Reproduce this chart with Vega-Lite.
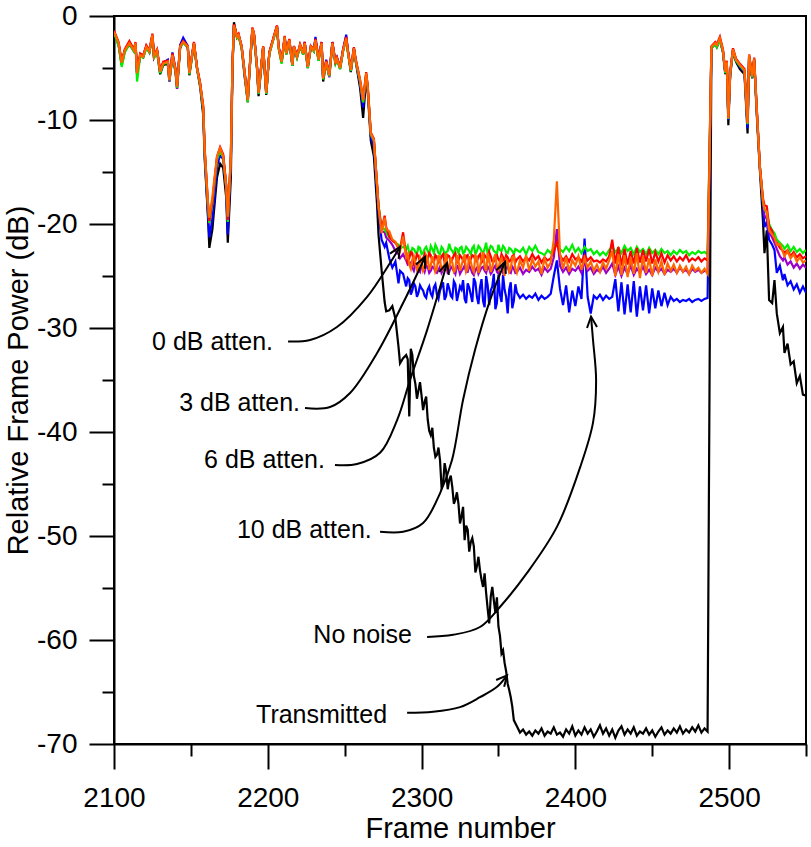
{
  "$schema": "https://vega.github.io/schema/vega-lite/v6.json",
  "width": 692,
  "height": 728,
  "autosize": "none",
  "padding": {"left": 114, "top": 16, "right": 5, "bottom": 103},
  "background": "white",
  "datasets": {
    "frames": [
      {"frame": 2100, "transmitted": -1.6, "no_noise": -1.5, "atten10": -1.5, "atten0": -1.6, "atten3": -1.4, "atten6": -1.5},
      {"frame": 2103, "transmitted": -2.8, "no_noise": -2.7, "atten10": -2.7, "atten0": -2.9, "atten3": -2.5, "atten6": -2.6},
      {"frame": 2105, "transmitted": -4.7, "no_noise": -4.5, "atten10": -4.6, "atten0": -4.9, "atten3": -4.4, "atten6": -4.5},
      {"frame": 2107, "transmitted": -3.4, "no_noise": -3.3, "atten10": -3.3, "atten0": -3.5, "atten3": -3.2, "atten6": -3.3},
      {"frame": 2110, "transmitted": -2.7, "no_noise": -2.6, "atten10": -2.6, "atten0": -2.7, "atten3": -2.4, "atten6": -2.6},
      {"frame": 2113, "transmitted": -3.4, "no_noise": -3.3, "atten10": -3.3, "atten0": -3.4, "atten3": -3.2, "atten6": -3.3},
      {"frame": 2114, "transmitted": -2.7, "no_noise": -2.6, "atten10": -2.7, "atten0": -2.8, "atten3": -2.5, "atten6": -2.6},
      {"frame": 2115, "transmitted": -5.6, "no_noise": -5.5, "atten10": -5.6, "atten0": -6.3, "atten3": -5.4, "atten6": -5.5},
      {"frame": 2117, "transmitted": -3.8, "no_noise": -3.9, "atten10": -3.8, "atten0": -3.9, "atten3": -3.6, "atten6": -3.75},
      {"frame": 2119, "transmitted": -4.0, "no_noise": -3.8, "atten10": -3.9, "atten0": -4.0, "atten3": -3.8, "atten6": -3.9},
      {"frame": 2121, "transmitted": -3.0, "no_noise": -2.9, "atten10": -3.0, "atten0": -3.1, "atten3": -2.8, "atten6": -2.95},
      {"frame": 2123, "transmitted": -3.5, "no_noise": -3.4, "atten10": -3.4, "atten0": -3.5, "atten3": -3.3, "atten6": -3.4},
      {"frame": 2125, "transmitted": -1.9, "no_noise": -1.8, "atten10": -1.9, "atten0": -2.0, "atten3": -1.7, "atten6": -1.8},
      {"frame": 2126, "transmitted": -4.0, "no_noise": -3.9, "atten10": -3.9, "atten0": -4.1, "atten3": -3.8, "atten6": -3.9},
      {"frame": 2128, "transmitted": -3.4, "no_noise": -3.3, "atten10": -3.3, "atten0": -3.4, "atten3": -3.2, "atten6": -3.3},
      {"frame": 2130, "transmitted": -5.6, "no_noise": -5.4, "atten10": -5.3, "atten0": -5.5, "atten3": -5.2, "atten6": -5.35},
      {"frame": 2132, "transmitted": -4.7, "no_noise": -4.5, "atten10": -4.5, "atten0": -4.6, "atten3": -4.4, "atten6": -4.55},
      {"frame": 2135, "transmitted": -4.6, "no_noise": -4.2, "atten10": -4.4, "atten0": -4.5, "atten3": -4.3, "atten6": -4.4},
      {"frame": 2136, "transmitted": -6.3, "no_noise": -6.0, "atten10": -6.3, "atten0": -6.2, "atten3": -6.0, "atten6": -6.15},
      {"frame": 2138, "transmitted": -3.9, "no_noise": -3.5, "atten10": -3.8, "atten0": -3.9, "atten3": -3.6, "atten6": -3.75},
      {"frame": 2140, "transmitted": -5.4, "no_noise": -5.1, "atten10": -5.2, "atten0": -5.3, "atten3": -5.1, "atten6": -5.2},
      {"frame": 2141, "transmitted": -7.0, "no_noise": -6.7, "atten10": -7.0, "atten0": -6.9, "atten3": -6.7, "atten6": -6.8},
      {"frame": 2143, "transmitted": -3.1, "no_noise": -2.8, "atten10": -3.0, "atten0": -3.0, "atten3": -2.9, "atten6": -2.95},
      {"frame": 2145, "transmitted": -2.4, "no_noise": -2.1, "atten10": -2.5, "atten0": -2.6, "atten3": -2.4, "atten6": -2.5},
      {"frame": 2148, "transmitted": -3.1, "no_noise": -2.9, "atten10": -3.0, "atten0": -3.0, "atten3": -2.9, "atten6": -2.95},
      {"frame": 2149, "transmitted": -5.7, "no_noise": -5.5, "atten10": -5.5, "atten0": -5.6, "atten3": -5.4, "atten6": -5.5},
      {"frame": 2152, "transmitted": -2.7, "no_noise": -2.6, "atten10": -2.6, "atten0": -2.7, "atten3": -2.5, "atten6": -2.6},
      {"frame": 2154, "transmitted": -5.1, "no_noise": -5.0, "atten10": -5.0, "atten0": -5.1, "atten3": -4.9, "atten6": -5.0},
      {"frame": 2156, "transmitted": -6.8, "no_noise": -6.6, "atten10": -6.5, "atten0": -6.6, "atten3": -6.4, "atten6": -6.5},
      {"frame": 2158, "transmitted": -9.5, "no_noise": -9.0, "atten10": -8.8, "atten0": -8.9, "atten3": -8.6, "atten6": -8.7},
      {"frame": 2159, "transmitted": -13.8, "no_noise": -13.4, "atten10": -13.0, "atten0": -13.1, "atten3": -12.8, "atten6": -12.9},
      {"frame": 2161, "transmitted": -19.0, "no_noise": -18.8, "atten10": -18.0, "atten0": -18.2, "atten3": -17.8, "atten6": -17.7},
      {"frame": 2162, "transmitted": -22.3, "no_noise": -21.3, "atten10": -20.0, "atten0": -19.9, "atten3": -19.7, "atten6": -19.4},
      {"frame": 2164, "transmitted": -20.5, "no_noise": -19.5, "atten10": -18.0, "atten0": -18.0, "atten3": -17.8, "atten6": -17.4},
      {"frame": 2165, "transmitted": -18.8, "no_noise": -18.0, "atten10": -16.5, "atten0": -16.6, "atten3": -16.3, "atten6": -16.0},
      {"frame": 2167, "transmitted": -15.5, "no_noise": -14.5, "atten10": -13.7, "atten0": -13.8, "atten3": -13.5, "atten6": -13.5},
      {"frame": 2169, "transmitted": -14.2, "no_noise": -13.3, "atten10": -12.8, "atten0": -13.0, "atten3": -12.6, "atten6": -12.7},
      {"frame": 2171, "transmitted": -14.6, "no_noise": -13.8, "atten10": -13.4, "atten0": -13.6, "atten3": -13.3, "atten6": -13.5},
      {"frame": 2173, "transmitted": -17.5, "no_noise": -16.8, "atten10": -16.3, "atten0": -16.5, "atten3": -16.3, "atten6": -16.4},
      {"frame": 2174, "transmitted": -21.8, "no_noise": -21.0, "atten10": -19.8, "atten0": -19.8, "atten3": -19.6, "atten6": -19.3},
      {"frame": 2176, "transmitted": -15.5, "no_noise": -14.0, "atten10": -13.5, "atten0": -13.6, "atten3": -13.4, "atten6": -13.5},
      {"frame": 2177, "transmitted": -5.5, "no_noise": -5.0, "atten10": -4.9, "atten0": -5.0, "atten3": -4.8, "atten6": -4.9},
      {"frame": 2178, "transmitted": -0.6, "no_noise": -0.9, "atten10": -0.9, "atten0": -1.0, "atten3": -0.8, "atten6": -0.9},
      {"frame": 2180, "transmitted": -2.1, "no_noise": -2.0, "atten10": -2.0, "atten0": -2.1, "atten3": -1.9, "atten6": -2.0},
      {"frame": 2181, "transmitted": -1.9, "no_noise": -1.8, "atten10": -1.8, "atten0": -1.9, "atten3": -1.7, "atten6": -1.8},
      {"frame": 2183, "transmitted": -3.1, "no_noise": -2.9, "atten10": -3.0, "atten0": -3.1, "atten3": -2.9, "atten6": -2.95},
      {"frame": 2185, "transmitted": -5.9, "no_noise": -5.6, "atten10": -5.6, "atten0": -5.6, "atten3": -5.4, "atten6": -5.5},
      {"frame": 2187, "transmitted": -8.2, "no_noise": -8.1, "atten10": -8.3, "atten0": -8.3, "atten3": -8.0, "atten6": -8.1},
      {"frame": 2188, "transmitted": -5.6, "no_noise": -5.5, "atten10": -5.5, "atten0": -5.6, "atten3": -5.4, "atten6": -5.5},
      {"frame": 2190, "transmitted": -1.3, "no_noise": -1.3, "atten10": -1.2, "atten0": -1.3, "atten3": -1.1, "atten6": -1.2},
      {"frame": 2191, "transmitted": -1.8, "no_noise": -1.7, "atten10": -1.7, "atten0": -1.8, "atten3": -1.6, "atten6": -1.7},
      {"frame": 2193, "transmitted": -5.1, "no_noise": -4.9, "atten10": -4.9, "atten0": -5.0, "atten3": -4.8, "atten6": -4.9},
      {"frame": 2194, "transmitted": -7.7, "no_noise": -7.4, "atten10": -7.5, "atten0": -7.5, "atten3": -7.3, "atten6": -7.4},
      {"frame": 2197, "transmitted": -3.0, "no_noise": -3.0, "atten10": -3.0, "atten0": -3.1, "atten3": -2.9, "atten6": -2.95},
      {"frame": 2199, "transmitted": -7.6, "no_noise": -7.4, "atten10": -7.4, "atten0": -7.5, "atten3": -7.3, "atten6": -7.4},
      {"frame": 2201, "transmitted": -3.5, "no_noise": -3.6, "atten10": -3.6, "atten0": -3.7, "atten3": -3.5, "atten6": -3.6},
      {"frame": 2204, "transmitted": -2.0, "no_noise": -2.0, "atten10": -2.0, "atten0": -2.1, "atten3": -1.9, "atten6": -2.0},
      {"frame": 2206, "transmitted": -1.0, "no_noise": -1.0, "atten10": -1.0, "atten0": -1.1, "atten3": -0.9, "atten6": -1.0},
      {"frame": 2207, "transmitted": -3.0, "no_noise": -2.9, "atten10": -3.0, "atten0": -3.1, "atten3": -2.9, "atten6": -2.95},
      {"frame": 2209, "transmitted": -4.5, "no_noise": -4.4, "atten10": -4.4, "atten0": -4.6, "atten3": -4.3, "atten6": -4.4},
      {"frame": 2211, "transmitted": -2.1, "no_noise": -2.0, "atten10": -2.0, "atten0": -2.1, "atten3": -1.9, "atten6": -2.0},
      {"frame": 2212, "transmitted": -3.7, "no_noise": -3.6, "atten10": -3.6, "atten0": -3.7, "atten3": -3.5, "atten6": -3.6},
      {"frame": 2214, "transmitted": -2.4, "no_noise": -2.3, "atten10": -2.3, "atten0": -2.4, "atten3": -2.2, "atten6": -2.3},
      {"frame": 2216, "transmitted": -4.8, "no_noise": -4.7, "atten10": -4.8, "atten0": -4.8, "atten3": -4.6, "atten6": -4.7},
      {"frame": 2217, "transmitted": -3.0, "no_noise": -2.9, "atten10": -3.0, "atten0": -3.0, "atten3": -2.9, "atten6": -2.95},
      {"frame": 2219, "transmitted": -4.0, "no_noise": -3.9, "atten10": -3.9, "atten0": -4.0, "atten3": -3.8, "atten6": -3.9},
      {"frame": 2221, "transmitted": -2.9, "no_noise": -2.8, "atten10": -2.8, "atten0": -2.9, "atten3": -2.7, "atten6": -2.8},
      {"frame": 2223, "transmitted": -3.7, "no_noise": -3.6, "atten10": -3.6, "atten0": -3.7, "atten3": -3.5, "atten6": -3.6},
      {"frame": 2224, "transmitted": -2.6, "no_noise": -2.5, "atten10": -2.6, "atten0": -2.7, "atten3": -2.5, "atten6": -2.6},
      {"frame": 2226, "transmitted": -5.0, "no_noise": -4.9, "atten10": -4.9, "atten0": -5.0, "atten3": -4.8, "atten6": -4.9},
      {"frame": 2228, "transmitted": -3.0, "no_noise": -2.9, "atten10": -3.0, "atten0": -3.0, "atten3": -2.9, "atten6": -2.95},
      {"frame": 2230, "transmitted": -3.4, "no_noise": -3.3, "atten10": -3.3, "atten0": -3.4, "atten3": -3.2, "atten6": -3.3},
      {"frame": 2231, "transmitted": -2.2, "no_noise": -2.0, "atten10": -2.3, "atten0": -2.4, "atten3": -2.2, "atten6": -2.3},
      {"frame": 2233, "transmitted": -4.3, "no_noise": -4.1, "atten10": -4.2, "atten0": -4.3, "atten3": -4.1, "atten6": -4.2},
      {"frame": 2235, "transmitted": -2.6, "no_noise": -2.5, "atten10": -2.6, "atten0": -2.7, "atten3": -2.5, "atten6": -2.6},
      {"frame": 2236, "transmitted": -6.3, "no_noise": -6.0, "atten10": -6.0, "atten0": -6.1, "atten3": -5.9, "atten6": -6.0},
      {"frame": 2238, "transmitted": -4.5, "no_noise": -4.2, "atten10": -4.4, "atten0": -4.5, "atten3": -4.3, "atten6": -4.4},
      {"frame": 2240, "transmitted": -5.8, "no_noise": -5.6, "atten10": -5.9, "atten0": -5.8, "atten3": -5.6, "atten6": -5.7},
      {"frame": 2242, "transmitted": -2.7, "no_noise": -2.5, "atten10": -2.6, "atten0": -2.7, "atten3": -2.5, "atten6": -2.6},
      {"frame": 2244, "transmitted": -4.6, "no_noise": -4.4, "atten10": -4.5, "atten0": -4.6, "atten3": -4.4, "atten6": -4.55},
      {"frame": 2245, "transmitted": -4.1, "no_noise": -4.0, "atten10": -4.1, "atten0": -4.2, "atten3": -4.0, "atten6": -4.1},
      {"frame": 2247, "transmitted": -5.1, "no_noise": -4.9, "atten10": -5.0, "atten0": -5.1, "atten3": -4.9, "atten6": -5.0},
      {"frame": 2249, "transmitted": -3.3, "no_noise": -3.2, "atten10": -3.3, "atten0": -3.4, "atten3": -3.2, "atten6": -3.3},
      {"frame": 2251, "transmitted": -2.1, "no_noise": -1.8, "atten10": -2.1, "atten0": -2.2, "atten3": -2.0, "atten6": -2.15},
      {"frame": 2252, "transmitted": -3.3, "no_noise": -3.2, "atten10": -3.3, "atten0": -3.4, "atten3": -3.2, "atten6": -3.3},
      {"frame": 2254, "transmitted": -5.4, "no_noise": -5.3, "atten10": -5.2, "atten0": -5.3, "atten3": -5.1, "atten6": -5.2},
      {"frame": 2256, "transmitted": -3.2, "no_noise": -3.1, "atten10": -3.1, "atten0": -3.2, "atten3": -3.0, "atten6": -3.1},
      {"frame": 2257, "transmitted": -4.2, "no_noise": -4.1, "atten10": -4.1, "atten0": -4.2, "atten3": -4.0, "atten6": -4.1},
      {"frame": 2260, "transmitted": -6.9, "no_noise": -6.6, "atten10": -6.3, "atten0": -6.3, "atten3": -6.1, "atten6": -6.15},
      {"frame": 2262, "transmitted": -9.8, "no_noise": -8.8, "atten10": -8.3, "atten0": -8.3, "atten3": -8.0, "atten6": -8.1},
      {"frame": 2264, "transmitted": -6.0, "no_noise": -5.7, "atten10": -5.6, "atten0": -5.6, "atten3": -5.4, "atten6": -5.5},
      {"frame": 2265, "transmitted": -7.3, "no_noise": -7.0, "atten10": -6.9, "atten0": -6.9, "atten3": -6.7, "atten6": -6.8},
      {"frame": 2267, "transmitted": -12.0, "no_noise": -11.6, "atten10": -11.4, "atten0": -11.4, "atten3": -11.2, "atten6": -11.3},
      {"frame": 2269, "transmitted": -13.5, "no_noise": -12.6, "atten10": -12.0, "atten0": -12.0, "atten3": -11.8, "atten6": -11.9},
      {"frame": 2271, "transmitted": -18.0, "no_noise": -16.8, "atten10": -16.2, "atten0": -16.2, "atten3": -16.0, "atten6": -16.1},
      {"frame": 2272, "transmitted": -21.0, "no_noise": -18.8, "atten10": -18.4, "atten0": -18.2, "atten3": -18.2, "atten6": -18.3},
      {"frame": 2274, "transmitted": -24.4, "no_noise": -21.5, "atten10": -20.7, "atten0": -20.4, "atten3": -20.5, "atten6": -20.9},
      {"frame": 2276, "transmitted": -27.5, "no_noise": -22.2, "atten10": -20.8, "atten0": -20.5, "atten3": -19.2, "atten6": -19.4},
      {"frame": 2277, "transmitted": -28.4, "no_noise": -21.8, "atten10": -21.3, "atten0": -20.8, "atten3": -20.3, "atten6": -20.5},
      {"frame": 2279, "transmitted": -28.3, "no_noise": -23.3, "atten10": -21.6, "atten0": -21.3, "atten3": -21.2, "atten6": -20.7},
      {"frame": 2281, "transmitted": -27.9, "no_noise": -24.2, "atten10": -22.0, "atten0": -21.5, "atten3": -21.6, "atten6": -21.5},
      {"frame": 2283, "transmitted": -29.1, "no_noise": -23.6, "atten10": -22.6, "atten0": -21.8, "atten3": -21.8, "atten6": -21.7},
      {"frame": 2285, "transmitted": -31.8, "no_noise": -25.7, "atten10": -22.9, "atten0": -22.0, "atten3": -22.3, "atten6": -22.4},
      {"frame": 2286, "transmitted": -33.4, "no_noise": -24.5, "atten10": -23.3, "atten0": -22.3, "atten3": -22.4, "atten6": -22.6},
      {"frame": 2288, "transmitted": -32.9, "no_noise": -24.8, "atten10": -22.9, "atten0": -22.2, "atten3": -20.8, "atten6": -21.2},
      {"frame": 2290, "transmitted": -32.6, "no_noise": -26.0, "atten10": -23.5, "atten0": -22.4, "atten3": -23.0, "atten6": -23.2},
      {"frame": 2292, "transmitted": -38.5, "no_noise": -25.4, "atten10": -23.8, "atten0": -22.8, "atten3": -23.3, "atten6": -23.9},
      {"frame": 2294, "transmitted": -32.6, "no_noise": -26.4, "atten10": -24.2, "atten0": -22.3, "atten3": -22.8, "atten6": -23.4},
      {"frame": 2296, "transmitted": -35.4, "no_noise": -26.0, "atten10": -23.9, "atten0": -22.7, "atten3": -23.5, "atten6": -23.8},
      {"frame": 2298, "transmitted": -36.0, "no_noise": -26.6, "atten10": -24.4, "atten0": -22.2, "atten3": -23.1, "atten6": -24.1},
      {"frame": 2300, "transmitted": -36.5, "no_noise": -26.2, "atten10": -24.0, "atten0": -22.9, "atten3": -23.6, "atten6": -23.5},
      {"frame": 2302, "transmitted": -37.1, "no_noise": -26.9, "atten10": -24.6, "atten0": -22.4, "atten3": -22.9, "atten6": -24.2},
      {"frame": 2304, "transmitted": -38.8, "no_noise": -26.3, "atten10": -24.1, "atten0": -22.6, "atten3": -23.4, "atten6": -23.3},
      {"frame": 2306, "transmitted": -40.3, "no_noise": -26.7, "atten10": -24.5, "atten0": -22.1, "atten3": -23.0, "atten6": -24.0},
      {"frame": 2308, "transmitted": -41.5, "no_noise": -26.1, "atten10": -24.2, "atten0": -22.8, "atten3": -23.7, "atten6": -23.6},
      {"frame": 2310, "transmitted": -42.2, "no_noise": -26.8, "atten10": -24.7, "atten0": -22.3, "atten3": -23.2, "atten6": -24.3},
      {"frame": 2312, "transmitted": -42.7, "no_noise": -26.4, "atten10": -24.1, "atten0": -22.9, "atten3": -23.5, "atten6": -23.4},
      {"frame": 2314, "transmitted": -45.0, "no_noise": -25.6, "atten10": -24.4, "atten0": -22.4, "atten3": -22.9, "atten6": -24.1},
      {"frame": 2316, "transmitted": -43.8, "no_noise": -26.9, "atten10": -24.0, "atten0": -22.7, "atten3": -23.6, "atten6": -22.8},
      {"frame": 2318, "transmitted": -44.6, "no_noise": -26.2, "atten10": -24.6, "atten0": -21.9, "atten3": -23.1, "atten6": -24.2},
      {"frame": 2320, "transmitted": -45.3, "no_noise": -27.1, "atten10": -24.3, "atten0": -22.6, "atten3": -23.4, "atten6": -23.7},
      {"frame": 2322, "transmitted": -46.5, "no_noise": -25.8, "atten10": -24.8, "atten0": -22.3, "atten3": -22.8, "atten6": -24.4},
      {"frame": 2324, "transmitted": -46.9, "no_noise": -26.7, "atten10": -24.2, "atten0": -22.8, "atten3": -23.5, "atten6": -23.5},
      {"frame": 2326, "transmitted": -48.1, "no_noise": -26.3, "atten10": -24.5, "atten0": -22.2, "atten3": -23.2, "atten6": -24.0},
      {"frame": 2328, "transmitted": -50.4, "no_noise": -27.2, "atten10": -24.0, "atten0": -22.7, "atten3": -23.7, "atten6": -22.9},
      {"frame": 2330, "transmitted": -49.4, "no_noise": -25.7, "atten10": -24.6, "atten0": -22.4, "atten3": -23.0, "atten6": -24.3},
      {"frame": 2332, "transmitted": -50.6, "no_noise": -26.8, "atten10": -24.3, "atten0": -22.9, "atten3": -23.4, "atten6": -23.6},
      {"frame": 2334, "transmitted": -51.0, "no_noise": -25.2, "atten10": -24.9, "atten0": -22.1, "atten3": -23.1, "atten6": -24.6},
      {"frame": 2336, "transmitted": -52.9, "no_noise": -27.0, "atten10": -24.2, "atten0": -22.6, "atten3": -23.6, "atten6": -23.2},
      {"frame": 2338, "transmitted": -53.3, "no_noise": -26.1, "atten10": -24.5, "atten0": -22.3, "atten3": -22.9, "atten6": -24.1},
      {"frame": 2340, "transmitted": -54.9, "no_noise": -27.4, "atten10": -24.1, "atten0": -22.8, "atten3": -23.5, "atten6": -22.7},
      {"frame": 2342, "transmitted": -55.5, "no_noise": -25.0, "atten10": -24.7, "atten0": -21.8, "atten3": -23.2, "atten6": -24.5},
      {"frame": 2344, "transmitted": -58.4, "no_noise": -27.8, "atten10": -24.3, "atten0": -22.5, "atten3": -22.7, "atten6": -23.4},
      {"frame": 2346, "transmitted": -54.9, "no_noise": -26.0, "atten10": -24.6, "atten0": -22.2, "atten3": -23.6, "atten6": -24.2},
      {"frame": 2348, "transmitted": -57.4, "no_noise": -28.2, "atten10": -24.0, "atten0": -22.7, "atten3": -23.1, "atten6": -22.9},
      {"frame": 2350, "transmitted": -58.7, "no_noise": -24.9, "atten10": -24.8, "atten0": -22.0, "atten3": -23.4, "atten6": -24.4},
      {"frame": 2352, "transmitted": -61.3, "no_noise": -27.5, "atten10": -24.2, "atten0": -22.6, "atten3": -22.9, "atten6": -23.3},
      {"frame": 2354, "transmitted": -62.2, "no_noise": -26.3, "atten10": -24.5, "atten0": -22.3, "atten3": -23.6, "atten6": -25.0},
      {"frame": 2356, "transmitted": -64.2, "no_noise": -28.6, "atten10": -24.1, "atten0": -22.8, "atten3": -23.2, "atten6": -23.6},
      {"frame": 2358, "transmitted": -65.5, "no_noise": -25.6, "atten10": -24.7, "atten0": -22.4, "atten3": -23.5, "atten6": -24.3},
      {"frame": 2360, "transmitted": -67.7, "no_noise": -27.4, "atten10": -24.3, "atten0": -22.9, "atten3": -23.0, "atten6": -23.1},
      {"frame": 2362, "transmitted": -68.3, "no_noise": -26.6, "atten10": -24.6, "atten0": -22.5, "atten3": -23.4, "atten6": -24.7},
      {"frame": 2364, "transmitted": -68.9, "no_noise": -27.1, "atten10": -24.2, "atten0": -22.7, "atten3": -23.1, "atten6": -23.5},
      {"frame": 2366, "transmitted": -68.6, "no_noise": -26.8, "atten10": -24.8, "atten0": -22.3, "atten3": -23.6, "atten6": -24.2},
      {"frame": 2368, "transmitted": -69.1, "no_noise": -27.2, "atten10": -24.4, "atten0": -22.9, "atten3": -23.2, "atten6": -23.0},
      {"frame": 2370, "transmitted": -68.8, "no_noise": -26.9, "atten10": -24.6, "atten0": -22.2, "atten3": -23.5, "atten6": -24.5},
      {"frame": 2372, "transmitted": -69.2, "no_noise": -27.1, "atten10": -24.1, "atten0": -22.6, "atten3": -22.9, "atten6": -23.4},
      {"frame": 2374, "transmitted": -68.7, "no_noise": -26.7, "atten10": -24.5, "atten0": -22.1, "atten3": -23.4, "atten6": -24.1},
      {"frame": 2376, "transmitted": -69.0, "no_noise": -27.3, "atten10": -24.3, "atten0": -22.7, "atten3": -23.1, "atten6": -23.6},
      {"frame": 2378, "transmitted": -68.5, "no_noise": -26.9, "atten10": -24.9, "atten0": -22.8, "atten3": -23.7, "atten6": -24.8},
      {"frame": 2380, "transmitted": -69.2, "no_noise": -27.2, "atten10": -24.2, "atten0": -23.0, "atten3": -23.2, "atten6": -23.3},
      {"frame": 2382, "transmitted": -68.8, "no_noise": -27.0, "atten10": -24.6, "atten0": -22.5, "atten3": -23.5, "atten6": -24.2},
      {"frame": 2384, "transmitted": -69.0, "no_noise": -26.7, "atten10": -24.3, "atten0": -22.8, "atten3": -23.3, "atten6": -23.7},
      {"frame": 2386, "transmitted": -68.4, "no_noise": -25.0, "atten10": -23.2, "atten0": -22.3, "atten3": -22.6, "atten6": -21.5},
      {"frame": 2388, "transmitted": -69.1, "no_noise": -23.5, "atten10": -20.5, "atten0": -21.9, "atten3": -21.8, "atten6": -15.9},
      {"frame": 2390, "transmitted": -68.9, "no_noise": -26.2, "atten10": -24.0, "atten0": -22.4, "atten3": -23.0, "atten6": -22.8},
      {"frame": 2392, "transmitted": -69.3, "no_noise": -27.8, "atten10": -24.6, "atten0": -22.7, "atten3": -23.5, "atten6": -24.3},
      {"frame": 2394, "transmitted": -68.6, "no_noise": -25.9, "atten10": -24.2, "atten0": -22.2, "atten3": -23.1, "atten6": -23.2},
      {"frame": 2396, "transmitted": -69.0, "no_noise": -28.5, "atten10": -24.8, "atten0": -22.6, "atten3": -23.6, "atten6": -24.6},
      {"frame": 2398, "transmitted": -68.3, "no_noise": -26.4, "atten10": -24.3, "atten0": -22.0, "atten3": -22.9, "atten6": -23.5},
      {"frame": 2400, "transmitted": -69.2, "no_noise": -27.9, "atten10": -24.5, "atten0": -22.7, "atten3": -23.4, "atten6": -24.0},
      {"frame": 2402, "transmitted": -68.7, "no_noise": -26.0, "atten10": -24.1, "atten0": -22.3, "atten3": -23.2, "atten6": -23.1},
      {"frame": 2404, "transmitted": -69.1, "no_noise": -27.2, "atten10": -24.7, "atten0": -22.8, "atten3": -23.6, "atten6": -24.4},
      {"frame": 2406, "transmitted": -68.4, "no_noise": -21.4, "atten10": -23.6, "atten0": -22.2, "atten3": -23.0, "atten6": -23.3},
      {"frame": 2408, "transmitted": -69.0, "no_noise": -27.0, "atten10": -24.5, "atten0": -22.6, "atten3": -23.5, "atten6": -24.2},
      {"frame": 2410, "transmitted": -68.6, "no_noise": -28.6, "atten10": -24.2, "atten0": -22.4, "atten3": -23.2, "atten6": -23.6},
      {"frame": 2412, "transmitted": -69.3, "no_noise": -26.9, "atten10": -24.8, "atten0": -22.9, "atten3": -23.6, "atten6": -24.5},
      {"frame": 2414, "transmitted": -68.8, "no_noise": -27.2, "atten10": -24.4, "atten0": -22.6, "atten3": -23.5, "atten6": -23.9},
      {"frame": 2416, "transmitted": -68.2, "no_noise": -26.8, "atten10": -24.6, "atten0": -23.0, "atten3": -23.7, "atten6": -24.6},
      {"frame": 2418, "transmitted": -69.0, "no_noise": -27.3, "atten10": -24.1, "atten0": -22.7, "atten3": -23.4, "atten6": -23.7},
      {"frame": 2420, "transmitted": -68.5, "no_noise": -26.9, "atten10": -24.7, "atten0": -23.0, "atten3": -23.6, "atten6": -24.3},
      {"frame": 2422, "transmitted": -69.2, "no_noise": -27.2, "atten10": -24.3, "atten0": -22.5, "atten3": -23.1, "atten6": -23.5},
      {"frame": 2424, "transmitted": -68.6, "no_noise": -27.0, "atten10": -23.8, "atten0": -22.2, "atten3": -21.5, "atten6": -22.6},
      {"frame": 2426, "transmitted": -69.4, "no_noise": -25.3, "atten10": -24.9, "atten0": -22.7, "atten3": -23.8, "atten6": -25.0},
      {"frame": 2428, "transmitted": -68.7, "no_noise": -28.4, "atten10": -24.1, "atten0": -22.3, "atten3": -22.2, "atten6": -22.9},
      {"frame": 2430, "transmitted": -68.3, "no_noise": -25.6, "atten10": -25.0, "atten0": -22.8, "atten3": -24.0, "atten6": -24.9},
      {"frame": 2432, "transmitted": -69.1, "no_noise": -28.7, "atten10": -24.2, "atten0": -22.1, "atten3": -22.4, "atten6": -23.0},
      {"frame": 2434, "transmitted": -68.6, "no_noise": -25.8, "atten10": -24.8, "atten0": -22.6, "atten3": -23.9, "atten6": -25.1},
      {"frame": 2436, "transmitted": -69.0, "no_noise": -28.5, "atten10": -24.0, "atten0": -22.3, "atten3": -22.6, "atten6": -23.2},
      {"frame": 2438, "transmitted": -68.4, "no_noise": -25.5, "atten10": -24.9, "atten0": -22.9, "atten3": -23.8, "atten6": -24.8},
      {"frame": 2440, "transmitted": -69.2, "no_noise": -28.9, "atten10": -24.3, "atten0": -22.2, "atten3": -22.3, "atten6": -22.8},
      {"frame": 2442, "transmitted": -68.8, "no_noise": -26.0, "atten10": -24.7, "atten0": -22.7, "atten3": -23.7, "atten6": -25.2},
      {"frame": 2444, "transmitted": -69.0, "no_noise": -28.3, "atten10": -24.1, "atten0": -22.4, "atten3": -22.5, "atten6": -23.1},
      {"frame": 2446, "transmitted": -68.5, "no_noise": -25.9, "atten10": -24.8, "atten0": -22.9, "atten3": -23.6, "atten6": -24.7},
      {"frame": 2448, "transmitted": -69.1, "no_noise": -28.6, "atten10": -24.4, "atten0": -22.3, "atten3": -22.4, "atten6": -23.3},
      {"frame": 2450, "transmitted": -68.7, "no_noise": -26.2, "atten10": -24.9, "atten0": -22.8, "atten3": -23.8, "atten6": -25.0},
      {"frame": 2452, "transmitted": -69.3, "no_noise": -28.1, "atten10": -24.2, "atten0": -22.5, "atten3": -22.7, "atten6": -23.4},
      {"frame": 2454, "transmitted": -68.8, "no_noise": -26.4, "atten10": -24.6, "atten0": -22.9, "atten3": -23.6, "atten6": -24.6},
      {"frame": 2456, "transmitted": -68.4, "no_noise": -27.9, "atten10": -24.3, "atten0": -22.4, "atten3": -22.8, "atten6": -23.6},
      {"frame": 2458, "transmitted": -69.1, "no_noise": -26.6, "atten10": -24.8, "atten0": -22.8, "atten3": -23.7, "atten6": -24.9},
      {"frame": 2460, "transmitted": -68.7, "no_noise": -27.8, "atten10": -24.4, "atten0": -22.6, "atten3": -23.0, "atten6": -23.8},
      {"frame": 2462, "transmitted": -69.0, "no_noise": -27.0, "atten10": -24.6, "atten0": -23.0, "atten3": -23.5, "atten6": -24.5},
      {"frame": 2464, "transmitted": -68.5, "no_noise": -27.4, "atten10": -24.3, "atten0": -22.6, "atten3": -23.1, "atten6": -23.9},
      {"frame": 2466, "transmitted": -68.9, "no_noise": -27.2, "atten10": -24.7, "atten0": -22.9, "atten3": -23.6, "atten6": -24.7},
      {"frame": 2468, "transmitted": -68.3, "no_noise": -27.5, "atten10": -24.2, "atten0": -22.5, "atten3": -23.2, "atten6": -24.0},
      {"frame": 2470, "transmitted": -69.0, "no_noise": -27.3, "atten10": -24.6, "atten0": -22.8, "atten3": -23.5, "atten6": -24.6},
      {"frame": 2472, "transmitted": -68.6, "no_noise": -27.4, "atten10": -24.4, "atten0": -22.6, "atten3": -23.0, "atten6": -24.1},
      {"frame": 2474, "transmitted": -68.9, "no_noise": -27.2, "atten10": -24.8, "atten0": -23.0, "atten3": -23.6, "atten6": -24.8},
      {"frame": 2476, "transmitted": -68.4, "no_noise": -27.5, "atten10": -24.3, "atten0": -22.7, "atten3": -23.3, "atten6": -24.0},
      {"frame": 2478, "transmitted": -68.8, "no_noise": -27.3, "atten10": -24.6, "atten0": -22.9, "atten3": -23.5, "atten6": -24.5},
      {"frame": 2480, "transmitted": -68.2, "no_noise": -27.2, "atten10": -24.4, "atten0": -22.6, "atten3": -23.2, "atten6": -24.2},
      {"frame": 2482, "transmitted": -68.9, "no_noise": -27.4, "atten10": -24.7, "atten0": -22.8, "atten3": -23.6, "atten6": -24.7},
      {"frame": 2484, "transmitted": -68.5, "no_noise": -27.2, "atten10": -24.5, "atten0": -22.7, "atten3": -23.3, "atten6": -24.3},
      {"frame": 2486, "transmitted": -68.8, "no_noise": -27.1, "atten10": -24.6, "atten0": -22.9, "atten3": -23.5, "atten6": -24.8},
      {"frame": 2488.5, "transmitted": -3.1, "no_noise": -3.0, "atten10": -3.0, "atten0": -3.1, "atten3": -2.9, "atten6": -2.95},
      {"frame": 2491, "transmitted": -2.7, "no_noise": -2.6, "atten10": -2.6, "atten0": -2.7, "atten3": -2.5, "atten6": -2.6},
      {"frame": 2492, "transmitted": -3.0, "no_noise": -2.9, "atten10": -2.9, "atten0": -3.0, "atten3": -2.7, "atten6": -2.8},
      {"frame": 2494, "transmitted": -2.3, "no_noise": -2.2, "atten10": -2.2, "atten0": -2.3, "atten3": -2.0, "atten6": -2.15},
      {"frame": 2496, "transmitted": -3.5, "no_noise": -3.4, "atten10": -3.4, "atten0": -3.4, "atten3": -3.2, "atten6": -3.3},
      {"frame": 2497.5, "transmitted": -5.6, "no_noise": -5.4, "atten10": -5.5, "atten0": -5.5, "atten3": -5.3, "atten6": -5.35},
      {"frame": 2498.5, "transmitted": -4.6, "no_noise": -4.5, "atten10": -4.4, "atten0": -4.5, "atten3": -4.3, "atten6": -4.4},
      {"frame": 2499.5, "transmitted": -10.5, "no_noise": -10.0, "atten10": -9.9, "atten0": -9.9, "atten3": -9.8, "atten6": -9.85},
      {"frame": 2500.7, "transmitted": -5.7, "no_noise": -5.6, "atten10": -5.5, "atten0": -5.6, "atten3": -5.4, "atten6": -5.5},
      {"frame": 2502.5, "transmitted": -3.4, "no_noise": -3.3, "atten10": -3.2, "atten0": -3.3, "atten3": -3.1, "atten6": -3.2},
      {"frame": 2504.5, "transmitted": -4.4, "no_noise": -4.3, "atten10": -4.2, "atten0": -4.3, "atten3": -4.1, "atten6": -4.2},
      {"frame": 2507, "transmitted": -5.1, "no_noise": -4.9, "atten10": -4.8, "atten0": -4.8, "atten3": -4.6, "atten6": -4.7},
      {"frame": 2510, "transmitted": -5.6, "no_noise": -5.4, "atten10": -5.3, "atten0": -5.3, "atten3": -5.1, "atten6": -5.2},
      {"frame": 2512, "transmitted": -11.3, "no_noise": -10.8, "atten10": -10.4, "atten0": -10.4, "atten3": -10.2, "atten6": -10.3},
      {"frame": 2513, "transmitted": -4.1, "no_noise": -3.9, "atten10": -3.8, "atten0": -3.9, "atten3": -3.7, "atten6": -3.75},
      {"frame": 2515, "transmitted": -6.0, "no_noise": -5.9, "atten10": -5.9, "atten0": -5.9, "atten3": -5.7, "atten6": -5.8},
      {"frame": 2516.3, "transmitted": -4.3, "no_noise": -4.2, "atten10": -4.1, "atten0": -4.2, "atten3": -4.0, "atten6": -4.1},
      {"frame": 2518, "transmitted": -9.5, "no_noise": -9.2, "atten10": -9.1, "atten0": -9.1, "atten3": -8.9, "atten6": -9.0},
      {"frame": 2520, "transmitted": -14.8, "no_noise": -14.6, "atten10": -14.5, "atten0": -14.5, "atten3": -14.4, "atten6": -14.5},
      {"frame": 2522, "transmitted": -19.7, "no_noise": -18.2, "atten10": -17.8, "atten0": -17.8, "atten3": -17.5, "atten6": -17.7},
      {"frame": 2523, "transmitted": -22.8, "no_noise": -20.3, "atten10": -19.2, "atten0": -18.6, "atten3": -18.2, "atten6": -18.6},
      {"frame": 2524.5, "transmitted": -20.6, "no_noise": -19.8, "atten10": -19.5, "atten0": -18.9, "atten3": -18.3, "atten6": -18.8},
      {"frame": 2526, "transmitted": -27.3, "no_noise": -21.5, "atten10": -20.8, "atten0": -20.0, "atten3": -20.2, "atten6": -20.6},
      {"frame": 2528, "transmitted": -27.6, "no_noise": -22.0, "atten10": -21.3, "atten0": -20.6, "atten3": -20.7, "atten6": -21.0},
      {"frame": 2529.5, "transmitted": -25.4, "no_noise": -22.5, "atten10": -21.8, "atten0": -20.9, "atten3": -21.5, "atten6": -21.3},
      {"frame": 2531, "transmitted": -28.6, "no_noise": -24.7, "atten10": -22.4, "atten0": -21.5, "atten3": -21.8, "atten6": -22.0},
      {"frame": 2533, "transmitted": -30.5, "no_noise": -24.0, "atten10": -23.1, "atten0": -21.8, "atten3": -22.3, "atten6": -21.9},
      {"frame": 2535, "transmitted": -29.9, "no_noise": -25.4, "atten10": -23.5, "atten0": -22.1, "atten3": -22.6, "atten6": -22.7},
      {"frame": 2536, "transmitted": -32.4, "no_noise": -24.8, "atten10": -23.2, "atten0": -22.4, "atten3": -22.8, "atten6": -23.1},
      {"frame": 2538, "transmitted": -31.5, "no_noise": -25.9, "atten10": -23.9, "atten0": -22.0, "atten3": -22.5, "atten6": -22.6},
      {"frame": 2540, "transmitted": -33.5, "no_noise": -25.5, "atten10": -23.6, "atten0": -22.6, "atten3": -23.1, "atten6": -23.3},
      {"frame": 2542, "transmitted": -33.2, "no_noise": -26.3, "atten10": -24.2, "atten0": -22.2, "atten3": -22.7, "atten6": -22.9},
      {"frame": 2544, "transmitted": -35.3, "no_noise": -25.8, "atten10": -23.8, "atten0": -22.7, "atten3": -23.2, "atten6": -23.6},
      {"frame": 2546, "transmitted": -34.6, "no_noise": -26.6, "atten10": -24.3, "atten0": -22.4, "atten3": -22.9, "atten6": -23.2},
      {"frame": 2548, "transmitted": -36.4, "no_noise": -26.0, "atten10": -23.9, "atten0": -22.8, "atten3": -23.3, "atten6": -23.7},
      {"frame": 2550, "transmitted": -36.5, "no_noise": -26.6, "atten10": -24.2, "atten0": -22.5, "atten3": -23.1, "atten6": -23.5},
      {"frame": 2291, "transmitted": -33.0, "no_noise": -25.2, "atten10": -23.9, "atten0": -22.1, "atten3": -23.6, "atten6": -22.9},
      {"frame": 2293, "transmitted": -32.0, "no_noise": -26.8, "atten10": -23.7, "atten0": -22.9, "atten3": -22.7, "atten6": -24.3},
      {"frame": 2295, "transmitted": -34.6, "no_noise": -25.7, "atten10": -24.5, "atten0": -22.4, "atten3": -23.8, "atten6": -23.1},
      {"frame": 2297, "transmitted": -36.8, "no_noise": -27.0, "atten10": -23.8, "atten0": -22.9, "atten3": -22.9, "atten6": -24.4},
      {"frame": 2299, "transmitted": -35.2, "no_noise": -25.9, "atten10": -24.6, "atten0": -22.3, "atten3": -23.7, "atten6": -23.2},
      {"frame": 2301, "transmitted": -37.9, "no_noise": -26.4, "atten10": -24.2, "atten0": -22.8, "atten3": -23.3, "atten6": -24.5},
      {"frame": 2303, "transmitted": -36.6, "no_noise": -27.1, "atten10": -24.0, "atten0": -22.2, "atten3": -23.8, "atten6": -23.0},
      {"frame": 2305, "transmitted": -39.9, "no_noise": -26.0, "atten10": -24.7, "atten0": -22.9, "atten3": -22.8, "atten6": -24.4},
      {"frame": 2307, "transmitted": -39.6, "no_noise": -27.0, "atten10": -24.1, "atten0": -22.4, "atten3": -23.6, "atten6": -23.1},
      {"frame": 2309, "transmitted": -42.4, "no_noise": -25.8, "atten10": -24.6, "atten0": -22.0, "atten3": -23.0, "atten6": -24.6},
      {"frame": 2311, "transmitted": -41.5, "no_noise": -27.2, "atten10": -24.4, "atten0": -22.8, "atten3": -23.7, "atten6": -23.0},
      {"frame": 2313, "transmitted": -45.3, "no_noise": -26.0, "atten10": -24.7, "atten0": -22.2, "atten3": -23.1, "atten6": -24.5},
      {"frame": 2315, "transmitted": -43.0, "no_noise": -27.3, "atten10": -24.3, "atten0": -22.9, "atten3": -23.7, "atten6": -23.9},
      {"frame": 2317, "transmitted": -45.5, "no_noise": -25.7, "atten10": -24.7, "atten0": -22.6, "atten3": -23.0, "atten6": -24.4},
      {"frame": 2319, "transmitted": -44.2, "no_noise": -26.9, "atten10": -24.1, "atten0": -22.4, "atten3": -23.6, "atten6": -23.2},
      {"frame": 2321, "transmitted": -46.9, "no_noise": -25.5, "atten10": -24.5, "atten0": -22.9, "atten3": -23.0, "atten6": -24.6},
      {"frame": 2323, "transmitted": -45.8, "no_noise": -27.4, "atten10": -24.0, "atten0": -22.4, "atten3": -23.7, "atten6": -23.0},
      {"frame": 2325, "transmitted": -48.8, "no_noise": -26.0, "atten10": -24.8, "atten0": -22.3, "atten3": -23.0, "atten6": -24.5},
      {"frame": 2327, "transmitted": -47.2, "no_noise": -25.4, "atten10": -24.3, "atten0": -22.8, "atten3": -23.5, "atten6": -23.4},
      {"frame": 2329, "transmitted": -49.0, "no_noise": -27.6, "atten10": -24.6, "atten0": -22.2, "atten3": -23.1, "atten6": -24.6},
      {"frame": 2331, "transmitted": -51.5, "no_noise": -26.1, "atten10": -24.0, "atten0": -22.6, "atten3": -23.7, "atten6": -23.1},
      {"frame": 2333, "transmitted": -50.2, "no_noise": -27.5, "atten10": -24.7, "atten0": -22.3, "atten3": -23.0, "atten6": -24.3},
      {"frame": 2335, "transmitted": -53.5, "no_noise": -25.6, "atten10": -24.4, "atten0": -22.9, "atten3": -23.5, "atten6": -23.0},
      {"frame": 2337, "transmitted": -52.0, "no_noise": -27.7, "atten10": -24.8, "atten0": -22.1, "atten3": -23.1, "atten6": -24.7},
      {"frame": 2339, "transmitted": -54.2, "no_noise": -25.3, "atten10": -24.2, "atten0": -22.6, "atten3": -23.7, "atten6": -23.3},
      {"frame": 2341, "transmitted": -53.6, "no_noise": -28.0, "atten10": -24.5, "atten0": -22.4, "atten3": -23.0, "atten6": -24.1},
      {"frame": 2343, "transmitted": -57.0, "no_noise": -25.9, "atten10": -24.1, "atten0": -22.9, "atten3": -23.5, "atten6": -22.8},
      {"frame": 2345, "transmitted": -55.8, "no_noise": -26.4, "atten10": -24.8, "atten0": -22.1, "atten3": -23.1, "atten6": -24.6},
      {"frame": 2347, "transmitted": -56.2, "no_noise": -24.8, "atten10": -24.2, "atten0": -22.6, "atten3": -23.6, "atten6": -23.3},
      {"frame": 2349, "transmitted": -55.9, "no_noise": -27.6, "atten10": -24.6, "atten0": -22.9, "atten3": -23.0, "atten6": -24.2},
      {"frame": 2351, "transmitted": -59.6, "no_noise": -26.8, "atten10": -24.0, "atten0": -22.5, "atten3": -23.6, "atten6": -23.6},
      {"frame": 2353, "transmitted": -61.0, "no_noise": -24.9, "atten10": -24.7, "atten0": -22.1, "atten3": -23.2, "atten6": -24.1},
      {"frame": 2355, "transmitted": -63.0, "no_noise": -27.0, "atten10": -24.2, "atten0": -22.7, "atten3": -23.0, "atten6": -23.4},
      {"frame": 2357, "transmitted": -64.8, "no_noise": -26.3, "atten10": -24.6, "atten0": -22.3, "atten3": -23.6, "atten6": -24.6},
      {"frame": 2359, "transmitted": -66.4, "no_noise": -28.1, "atten10": -24.1, "atten0": -22.6, "atten3": -23.1, "atten6": -23.2},
      {"frame": 2361, "transmitted": -68.0, "no_noise": -25.8, "atten10": -24.7, "atten0": -22.4, "atten3": -23.7, "atten6": -24.3}
    ],
    "curves": [
      {"arrow": "0 dB", "step": 1, "frame": 2213.2, "power": -31.3},
      {"arrow": "0 dB", "step": 2, "frame": 2227.5, "power": -31.15},
      {"arrow": "0 dB", "step": 3, "frame": 2245.0, "power": -29.9},
      {"arrow": "0 dB", "step": 4, "frame": 2264.6, "power": -27.0},
      {"arrow": "0 dB", "step": 5, "frame": 2279.5, "power": -23.75},
      {"arrow": "0 dB", "step": 6, "frame": 2286.0, "power": -22.2},
      {"arrow": "3 dB", "step": 1, "frame": 2224.2, "power": -37.7},
      {"arrow": "3 dB", "step": 2, "frame": 2240.5, "power": -37.6},
      {"arrow": "3 dB", "step": 3, "frame": 2253.5, "power": -36.25},
      {"arrow": "3 dB", "step": 4, "frame": 2271.1, "power": -32.4},
      {"arrow": "3 dB", "step": 5, "frame": 2288.0, "power": -27.6},
      {"arrow": "3 dB", "step": 6, "frame": 2302.3, "power": -23.17},
      {"arrow": "6 dB", "step": 1, "frame": 2243.7, "power": -43.17},
      {"arrow": "6 dB", "step": 2, "frame": 2258.0, "power": -43.08},
      {"arrow": "6 dB", "step": 3, "frame": 2273.0, "power": -42.0},
      {"arrow": "6 dB", "step": 4, "frame": 2284.1, "power": -38.85},
      {"arrow": "6 dB", "step": 5, "frame": 2292.5, "power": -35.0},
      {"arrow": "6 dB", "step": 6, "frame": 2303.6, "power": -30.2},
      {"arrow": "6 dB", "step": 7, "frame": 2316.6, "power": -23.75},
      {"arrow": "10 dB", "step": 1, "frame": 2273.0, "power": -49.6},
      {"arrow": "10 dB", "step": 2, "frame": 2288.0, "power": -49.6},
      {"arrow": "10 dB", "step": 3, "frame": 2301.0, "power": -48.75},
      {"arrow": "10 dB", "step": 4, "frame": 2312.0, "power": -45.9},
      {"arrow": "10 dB", "step": 5, "frame": 2319.8, "power": -42.7},
      {"arrow": "10 dB", "step": 6, "frame": 2327.0, "power": -36.9},
      {"arrow": "10 dB", "step": 7, "frame": 2334.8, "power": -32.1},
      {"arrow": "10 dB", "step": 8, "frame": 2344.6, "power": -27.3},
      {"arrow": "10 dB", "step": 9, "frame": 2354.3, "power": -23.65},
      {"arrow": "none", "step": 1, "frame": 2303.6, "power": -59.7},
      {"arrow": "none", "step": 2, "frame": 2320.5, "power": -59.5},
      {"arrow": "none", "step": 3, "frame": 2338.0, "power": -58.75},
      {"arrow": "none", "step": 4, "frame": 2351.1, "power": -56.8},
      {"arrow": "none", "step": 5, "frame": 2368.6, "power": -53.55},
      {"arrow": "none", "step": 6, "frame": 2388.1, "power": -49.1},
      {"arrow": "none", "step": 7, "frame": 2403.1, "power": -43.4},
      {"arrow": "none", "step": 8, "frame": 2411.5, "power": -39.1},
      {"arrow": "none", "step": 9, "frame": 2413.5, "power": -35.0},
      {"arrow": "none", "step": 10, "frame": 2411.5, "power": -31.15},
      {"arrow": "none", "step": 11, "frame": 2410.2, "power": -28.9},
      {"arrow": "tx", "step": 1, "frame": 2290.6, "power": -67.0},
      {"arrow": "tx", "step": 2, "frame": 2307.5, "power": -66.9},
      {"arrow": "tx", "step": 3, "frame": 2325.0, "power": -66.45},
      {"arrow": "tx", "step": 4, "frame": 2338.0, "power": -65.5},
      {"arrow": "tx", "step": 5, "frame": 2349.1, "power": -64.5},
      {"arrow": "tx", "step": 6, "frame": 2355.6, "power": -63.4}
    ],
    "heads": [
      {"arrow": "0 dB", "step": 1, "frame": 2279.4, "power": -22.85},
      {"arrow": "0 dB", "step": 2, "frame": 2286.0, "power": -22.2},
      {"arrow": "0 dB", "step": 3, "frame": 2285.1, "power": -23.35},
      {"arrow": "3 dB", "step": 1, "frame": 2296.3, "power": -23.9},
      {"arrow": "3 dB", "step": 2, "frame": 2302.3, "power": -23.17},
      {"arrow": "3 dB", "step": 3, "frame": 2302.2, "power": -24.3},
      {"arrow": "6 dB", "step": 1, "frame": 2311.4, "power": -24.6},
      {"arrow": "6 dB", "step": 2, "frame": 2316.6, "power": -23.75},
      {"arrow": "6 dB", "step": 3, "frame": 2317.8, "power": -24.9},
      {"arrow": "10 dB", "step": 1, "frame": 2348.6, "power": -24.45},
      {"arrow": "10 dB", "step": 2, "frame": 2354.3, "power": -23.65},
      {"arrow": "10 dB", "step": 3, "frame": 2354.8, "power": -24.8},
      {"arrow": "none", "step": 1, "frame": 2407.6, "power": -30.0},
      {"arrow": "none", "step": 2, "frame": 2410.2, "power": -28.9},
      {"arrow": "none", "step": 3, "frame": 2414.1, "power": -29.9},
      {"arrow": "tx", "step": 1, "frame": 2348.5, "power": -63.85},
      {"arrow": "tx", "step": 2, "frame": 2355.6, "power": -63.4},
      {"arrow": "tx", "step": 3, "frame": 2353.7, "power": -64.5}
    ],
    "labels": [
      {"label": "0 dB atten.", "frame": 2203.4, "power": -31.35},
      {"label": "3 dB atten.", "frame": 2221.0, "power": -37.2},
      {"label": "6 dB atten.", "frame": 2237.2, "power": -42.7},
      {"label": "10 dB atten.", "frame": 2267.6, "power": -49.4},
      {"label": "No noise", "frame": 2293.8, "power": -59.5},
      {"label": "Transmitted", "frame": 2277.6, "power": -67.2}
    ]
  },
  "layer": [
    {
      "data": {"name": "frames"},
      "transform": [
        {"fold": ["transmitted", "no_noise", "atten10", "atten0", "atten3", "atten6"], "as": ["series", "power"]}
      ],
      "mark": {"type": "line", "strokeWidth": 2.2, "clip": true},
      "encoding": {
        "x": {
          "field": "frame",
          "type": "quantitative",
          "scale": {"domain": [2100, 2550], "nice": false, "zero": false},
          "axis": {
            "title": "Frame number",
            "values": [2100, 2150, 2200, 2250, 2300, 2350, 2400, 2450, 2500, 2550],
            "labelExpr": "datum.value % 100 === 0 ? '' + datum.value : ''",
            "tickSize": {"condition": {"test": "datum.value % 100 === 0", "value": 25}, "value": 12},
            "labelPadding": 15,
            "titlePadding": 2
          }
        },
        "y": {
          "field": "power",
          "type": "quantitative",
          "scale": {"domain": [-70, 0], "nice": false, "zero": false},
          "axis": {
            "title": "Relative Frame Power (dB)",
            "values": [-70, -65, -60, -55, -50, -45, -40, -35, -30, -25, -20, -15, -10, -5, 0],
            "labelExpr": "datum.value % 10 === 0 ? '' + datum.value : ''",
            "tickSize": {"condition": {"test": "datum.value % 10 === 0", "value": 25}, "value": 12},
            "labelPadding": 12,
            "titlePadding": 3
          }
        },
        "color": {
          "field": "series",
          "type": "nominal",
          "scale": {
            "domain": ["transmitted", "no_noise", "atten10", "atten0", "atten3", "atten6"],
            "range": ["#000000", "#0000ff", "#9900cc", "#00ee00", "#ff0000", "#ff6600"]
          },
          "legend": null
        }
      }
    },
    {
      "data": {"name": "curves"},
      "mark": {"type": "line", "interpolate": "catmull-rom", "color": "black", "strokeWidth": 2},
      "encoding": {
        "x": {"field": "frame", "type": "quantitative"},
        "y": {"field": "power", "type": "quantitative"},
        "detail": {"field": "arrow"},
        "order": {"field": "step", "type": "quantitative"}
      }
    },
    {
      "data": {"name": "heads"},
      "mark": {"type": "line", "color": "black", "strokeWidth": 2},
      "encoding": {
        "x": {"field": "frame", "type": "quantitative"},
        "y": {"field": "power", "type": "quantitative"},
        "detail": {"field": "arrow"},
        "order": {"field": "step", "type": "quantitative"}
      }
    },
    {
      "data": {"name": "labels"},
      "mark": {"type": "text", "align": "right", "baseline": "middle", "font": "Liberation Sans", "fontSize": 25, "color": "black"},
      "encoding": {
        "x": {"field": "frame", "type": "quantitative"},
        "y": {"field": "power", "type": "quantitative"},
        "text": {"field": "label"}
      }
    }
  ],
  "config": {
    "view": {"stroke": "black", "strokeWidth": 2},
    "axis": {
      "grid": false,
      "domainColor": "black",
      "domainWidth": 2,
      "tickColor": "black",
      "tickWidth": 2,
      "labelFont": "Liberation Sans",
      "labelFontSize": 28,
      "labelColor": "black",
      "labelFlush": false,
      "labelOverlap": false,
      "titleFont": "Liberation Sans",
      "titleFontSize": 29,
      "titleFontWeight": "normal",
      "titleColor": "black"
    }
  }
}
